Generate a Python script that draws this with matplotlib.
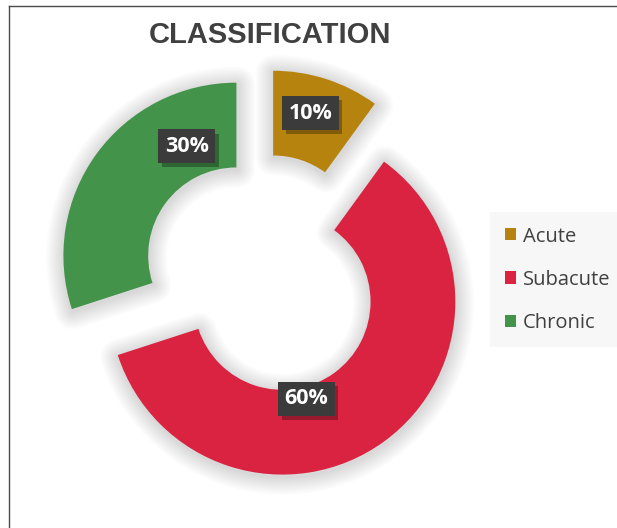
import matplotlib
matplotlib.use("Agg")
import matplotlib.pyplot as plt
import matplotlib.patches as mpatches
import matplotlib.patheffects as pe
from matplotlib.lines import Line2D
import numpy as np

# ---- data ----
categories = ["Acute", "Subacute", "Chronic"]
values = [10, 60, 30]
colors = ["#B7830F", "#DA2340", "#43934A"]
title = "CLASSIFICATION"

# ---- layout / style ----
W, H = 617, 528
cx_px, cy_px, R_px = 263, 275, 173
explode = [0.19, 0.19, 0.19]
ring_width = 0.49
# label placement relative to each exploded wedge centre: (deg clockwise from top, radius)
label_polar = [(16, 0.786), (166, 0.578), (335.6, 0.694)]

fig = plt.figure(figsize=(W / 100, H / 100), dpi=100)
fig.patch.set_facecolor("white")
ax = fig.add_axes([0, 0, 1, 1])

wedges, _, autotexts = ax.pie(
    values, colors=colors, explode=explode, startangle=90, counterclock=False,
    radius=1.0, wedgeprops=dict(width=ring_width, edgecolor="none", zorder=3),
    autopct=lambda p: f"{p:.0f}%", pctdistance=0.75,
)

# soft shadows behind each wedge
for w in wedges:
    for k in range(1, 14):
        sh = mpatches.Wedge((w.center[0] + 0.004, w.center[1] - 0.012), w.r, w.theta1, w.theta2,
                            width=w.width, facecolor="none", edgecolor="#000000",
                            linewidth=2.0 * k, alpha=0.013, zorder=1, joinstyle="round")
        ax.add_patch(sh)

for w, t, (ang, rad) in zip(wedges, autotexts, label_polar):
    a = np.deg2rad(90 - ang)
    x = w.center[0] + rad * np.cos(a)
    y = w.center[1] + rad * np.sin(a)
    t.set_position((x, y))
    t.set_color("white")
    t.set_fontsize(15.5)
    t.set_fontweight("bold")
    t.set_family(["Open Sans", "DejaVu Sans"])
    t.set_zorder(6)
    t.set_bbox(dict(boxstyle="square,pad=0.3", facecolor="#3b3b3b", edgecolor="none"))
    t.get_bbox_patch().set_path_effects(
        [pe.SimplePatchShadow(offset=(2.5, -3), shadow_rgbFace="black", alpha=0.3), pe.Normal()])

ax.set_aspect("equal")
ax.set_xlim(-cx_px / R_px, (W - cx_px) / R_px)
ax.set_ylim(-(H - cy_px) / R_px, cy_px / R_px)
ax.axis("off")

# title
fig.text(270 / W, 1 - 43 / H, title, ha="center", va="baseline", fontsize=21,
         fontweight="bold", family=["Liberation Sans", "DejaVu Sans"],
         color="#404040")

# legend
leg = fig.legend(wedges, categories, loc="upper left", bbox_to_anchor=(490 / W, 1 - 212 / H),
                 borderaxespad=0, frameon=True, fancybox=False, handlelength=0.55,
                 handleheight=0.55, handletextpad=0.35, labelspacing=1.15,
                 borderpad=0.72, prop=dict(family="Open Sans", size=14.5))
leg.get_frame().set_facecolor("#f6f6f6")
leg.get_frame().set_edgecolor("none")
for txt in leg.get_texts():
    txt.set_color("#404040")

# border lines
fig.add_artist(Line2D([8.5 / W, 8.5 / W], [0, 1 - 5.5 / H], color="#4a4a4a", lw=1.0))
fig.add_artist(Line2D([8.5 / W, 1], [1 - 5.5 / H, 1 - 5.5 / H], color="#4a4a4a", lw=1.0))

fig.savefig("out.png", dpi=100, facecolor="white")
